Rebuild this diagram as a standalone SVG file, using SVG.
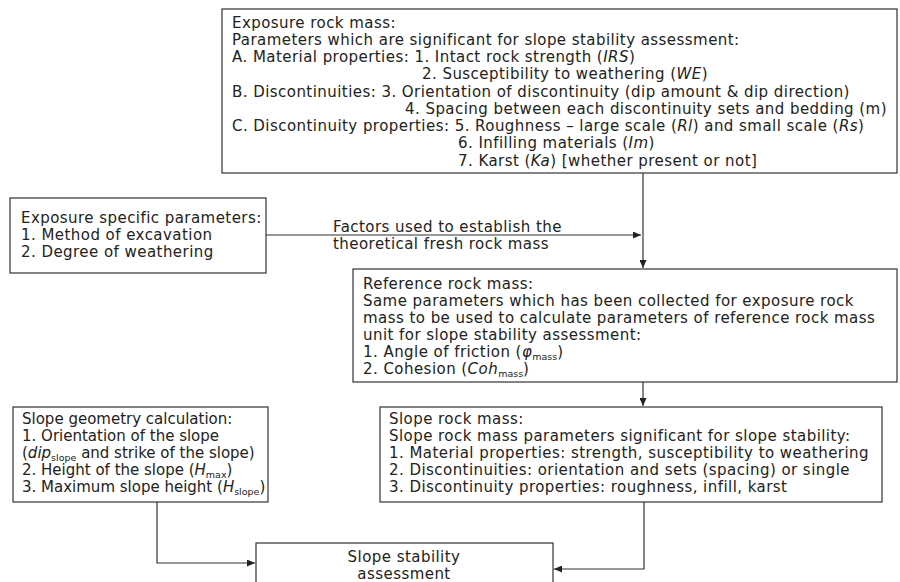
<svg xmlns="http://www.w3.org/2000/svg" width="900" height="582" viewBox="0 0 900 582">
<style>
.box{fill:#fff;stroke:#333;stroke-width:1.2}
.t{font-family:"DejaVu Sans",Verdana,sans-serif;font-size:15px;letter-spacing:0.45px;fill:#222}
.n{letter-spacing:0}
.sub{font-size:9.5px;letter-spacing:0}
.c{fill:none;stroke:#333;stroke-width:1.2}
</style>
<defs>
<marker id="ah" markerWidth="8" markerHeight="7" refX="8" refY="3.5" orient="auto" markerUnits="userSpaceOnUse">
<path d="M0,0 L8,3.5 L0,7 Z" fill="#222"/>
</marker>
</defs>
<rect width="900" height="582" fill="#fff"/>
<g id="connectors">
<path class="c" d="M643,173 V268" marker-end="url(#ah)"/>
<path class="c" d="M266,235 H641" marker-end="url(#ah)"/>
<path class="c" d="M643,382 V406" marker-end="url(#ah)"/>
<path class="c" d="M157,502 V563 H255" marker-end="url(#ah)"/>
<path class="c" d="M644,502 V569 H554" marker-end="url(#ah)"/>
<text class="t" x="333" y="232">Factors used to establish the</text>
<text class="t" x="333" y="249">theoretical fresh rock mass</text>
</g>
<g id="exposure-rock-mass">
<rect class="box" x="222" y="9" width="675" height="164"/>
<text class="t" x="232" y="28">Exposure rock mass:</text>
<text class="t" x="232" y="45">Parameters which are significant for slope stability assessment:</text>
<text class="t" x="232" y="62">A. Material properties:  1. Intact rock strength (<tspan font-style="italic">IRS</tspan>)</text>
<text class="t" x="422" y="79">2. Susceptibility to weathering (<tspan font-style="italic">WE</tspan>)</text>
<text class="t" x="232" y="97">B. Discontinuities: 3. Orientation of discontinuity (dip amount &amp; dip direction)</text>
<text class="t" x="405" y="114">4. Spacing between each discontinuity sets and bedding (m)</text>
<text class="t" x="232" y="131">C. Discontinuity properties: 5. Roughness – large scale (<tspan font-style="italic">Rl</tspan>) and small scale (<tspan font-style="italic">Rs</tspan>)</text>
<text class="t" x="458" y="148">6. Infilling materials (<tspan font-style="italic">Im</tspan>)</text>
<text class="t" x="458" y="166">7. Karst (<tspan font-style="italic">Ka</tspan>) [whether present or not]</text>
</g>
<g id="exposure-specific">
<rect class="box" x="10" y="198" width="256" height="75"/>
<text class="t" x="21" y="223">Exposure specific parameters:</text>
<text class="t" x="21" y="240">1. Method of excavation</text>
<text class="t" x="21" y="257">2. Degree of weathering</text>
</g>
<g id="reference-rock-mass">
<rect class="box" x="353" y="269" width="544" height="113"/>
<text class="t" x="363" y="289">Reference rock mass:</text>
<text class="t" x="363" y="306">Same parameters which has been collected for exposure rock</text>
<text class="t" x="363" y="323">mass to be used to calculate parameters of  reference rock mass</text>
<text class="t" x="363" y="340">unit for slope stability assessment:</text>
<text class="t" x="363" y="357">1. Angle of friction (<tspan font-style="italic">φ</tspan><tspan class="sub" dy="2.5">mass</tspan><tspan dy="-2.5">)</tspan></text>
<text class="t" x="363" y="374">2. Cohesion (<tspan font-style="italic">Coh</tspan><tspan class="sub" dy="2.5">mass</tspan><tspan dy="-2.5">)</tspan></text>
</g>
<g id="slope-geometry">
<rect class="box" x="13" y="407" width="255" height="95"/>
<text class="t n" x="22" y="424">Slope geometry calculation:</text>
<text class="t n" x="22" y="441">1. Orientation of the slope</text>
<text class="t n" x="22" y="458">(<tspan font-style="italic">dip</tspan><tspan class="sub" dy="2.5">slope</tspan><tspan dy="-2.5"> and strike of the slope)</tspan></text>
<text class="t n" x="22" y="475">2. Height of the slope (<tspan font-style="italic">H</tspan><tspan class="sub" dy="2.5">max</tspan><tspan dy="-2.5">)</tspan></text>
<text class="t n" x="22" y="492">3. Maximum slope height (<tspan font-style="italic">H</tspan><tspan class="sub" dy="2.5">slope</tspan><tspan dy="-2.5">)</tspan></text>
</g>
<g id="slope-rock-mass">
<rect class="box" x="380" y="407" width="502" height="95"/>
<text class="t" x="389" y="424">Slope rock mass:</text>
<text class="t" x="389" y="441">Slope rock mass parameters significant for slope stability:</text>
<text class="t" x="389" y="458">1. Material properties: strength, susceptibility to weathering</text>
<text class="t" x="389" y="475">2. Discontinuities: orientation and sets (spacing) or single</text>
<text class="t" x="389" y="492">3. Discontinuity properties: roughness, infill, karst</text>
</g>
<g id="slope-stability">
<rect class="box" x="256" y="543" width="297" height="50"/>
<text class="t" x="404" y="562" text-anchor="middle">Slope stability</text>
<text class="t" x="404" y="579" text-anchor="middle">assessment</text>
</g>
</svg>
